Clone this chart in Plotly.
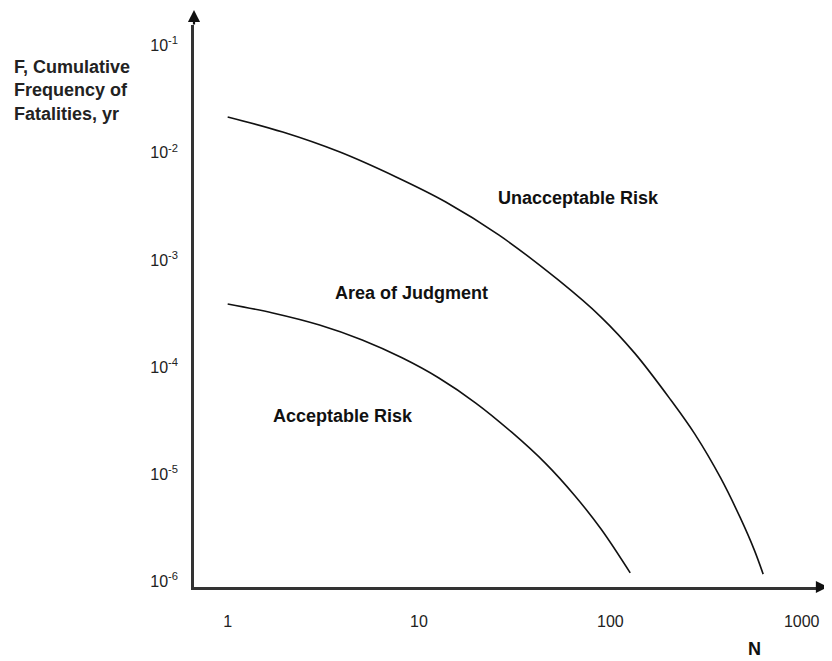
import plotly.graph_objects as go
import math

# Upper curve (boundary between Unacceptable Risk and Area of Judgment)
upper_N = [1.00, 1.94, 3.83, 7.59, 13.8, 26.1, 53.4, 89.4, 134, 207, 276, 377, 478, 565, 629]
upper_F = [0.0216, 0.0156, 0.0102, 0.00594, 0.00347, 0.00171, 6.50e-4, 2.93e-4,
           1.35e-4, 4.93e-5, 2.38e-5, 9.23e-6, 3.91e-6, 1.97e-6, 1.17e-6]

# Lower curve (boundary between Area of Judgment and Acceptable Risk)
lower_N = [1.00, 1.72, 3.02, 5.05, 8.15, 12.7, 19.8, 30.4, 45.7, 65.4, 89.4, 127]
lower_F = [3.88e-4, 3.20e-4, 2.47e-4, 1.79e-4, 1.22e-4, 7.91e-5, 4.62e-5, 2.48e-5,
           1.27e-5, 6.27e-6, 3.08e-6, 1.20e-6]

x_tickvals = [1, 10, 100, 1000]
x_ticktext = ["1", "10", "100", "1000"]
y_tickvals = [1e-1, 1e-2, 1e-3, 1e-4, 1e-5, 1e-6]
y_ticktext = ["10<sup>-1</sup>", "10<sup>-2</sup>", "10<sup>-3</sup>",
              "10<sup>-4</sup>", "10<sup>-5</sup>", "10<sup>-6</sup>"]

regions = [
    ("Unacceptable Risk", 67.9, 3.79e-3),
    ("Area of Judgment", 9.18, 4.91e-4),
    ("Acceptable Risk", 4.02, 3.50e-5),
]

FONT = "Liberation Sans, Arial, Helvetica, sans-serif"
AXIS_COLOR = "#333333"

fig = go.Figure()
for xs, ys in [(upper_N, upper_F), (lower_N, lower_F)]:
    fig.add_trace(go.Scatter(x=xs, y=ys, mode="lines",
                             line=dict(color="#111111", width=1.6, shape="spline", smoothing=1.0),
                             showlegend=False, hoverinfo="skip"))

annotations = []
for text, xv, yv in regions:
    annotations.append(dict(x=math.log10(xv), y=math.log10(yv), xref="x", yref="y",
                            text="<b>%s</b>" % text, showarrow=False,
                            font=dict(family=FONT, size=18, color="#111111")))

# y-axis title block
annotations.append(dict(x=-0.2923, y=0.8826, xref="paper", yref="paper",
                        xanchor="left", yanchor="middle", align="left", showarrow=False,
                        text="<b>F, Cumulative<br>Frequency of<br>Fatalities, yr</b>",
                        font=dict(family=FONT, size=18, color="#222222")))
# x-axis title
annotations.append(dict(x=0.899, y=-0.110, xref="paper", yref="paper",
                        xanchor="center", yanchor="middle", showarrow=False,
                        text="<b>N</b>", font=dict(family=FONT, size=18, color="#111111")))
# axis arrowheads
annotations.append(dict(x=0, y=1 + 15 / 562, xref="paper", yref="paper", text="",
                        showarrow=True, ax=0, ay=16,
                        arrowhead=2, arrowsize=1.1, arrowwidth=2.2, arrowcolor="#111111",
                        standoff=0))
annotations.append(dict(x=1 + 11 / 626, y=0, xref="paper", yref="paper", text="",
                        showarrow=True, ax=-12, ay=0,
                        arrowhead=2, arrowsize=1.1, arrowwidth=2.2, arrowcolor="#111111",
                        standoff=0))

fig.update_layout(
    width=824, height=653,
    margin=dict(l=186, r=12, t=17, b=74),
    paper_bgcolor="white", plot_bgcolor="white",
    font=dict(family=FONT, size=16, color="#222222"),
    annotations=annotations,
    xaxis=dict(type="log", range=[-0.176, 3.080], tickvals=x_tickvals, ticktext=x_ticktext,
               showgrid=False, zeroline=False, showline=True, linecolor=AXIS_COLOR,
               linewidth=2.5, ticks="", ticklabelstandoff=18,
               tickfont=dict(family=FONT, size=16, color="#222222")),
    yaxis=dict(type="log", range=[-6.052, -0.808], tickvals=y_tickvals, ticktext=y_ticktext,
               showgrid=False, zeroline=False, showline=True, linecolor=AXIS_COLOR,
               linewidth=2.5, ticks="", ticklabelstandoff=10,
               tickfont=dict(family=FONT, size=16, color="#222222")),
)

fig.write_html("out.html")
